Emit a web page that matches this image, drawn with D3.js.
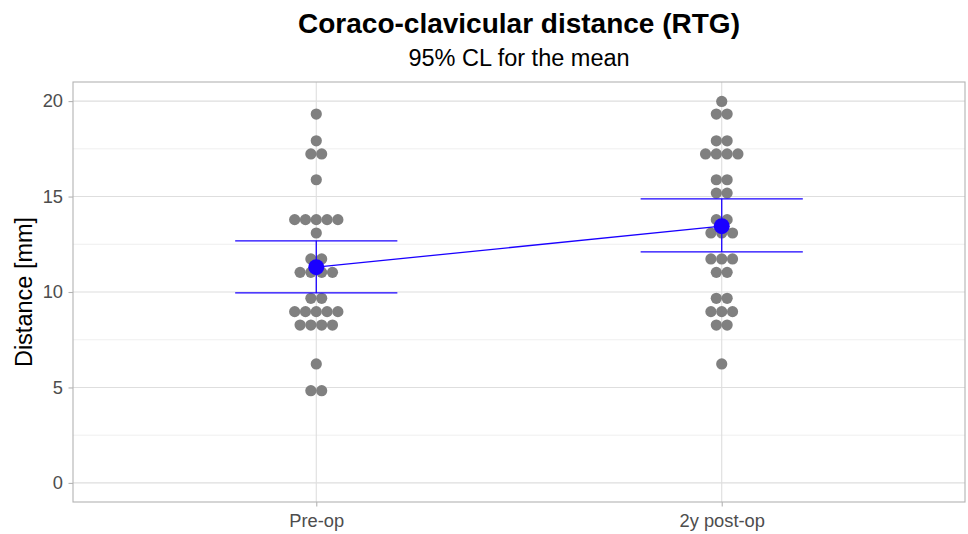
<!DOCTYPE html>
<html lang="en">
<head>
<meta charset="UTF-8">
<title>Coraco-clavicular distance (RTG)</title>
<script src="https://cdn.jsdelivr.net/npm/d3@7"></script>
<style>
  body { margin: 0; background: #fff; }
  svg { font-family: "Liberation Sans", Arial, sans-serif; }
</style>
</head>
<body>
<svg id="chart" width="968" height="534"></svg>
<script>
// groups on the x axis
const groups = ["Pre-op", "2y post-op"];

const preOp = [
  19.32, 17.92, 17.23, 17.23, 15.88,
  13.79, 13.79, 13.79, 13.79, 13.79, 13.09,
  11.73, 11.73, 11.03, 11.03, 11.03, 11.03,
  9.67, 9.67, 8.97, 8.97, 8.97, 8.97, 8.97,
  8.27, 8.27, 8.27, 8.27, 6.23, 4.83, 4.83
];
const postOp = [
  19.98, 19.32, 19.32, 17.92, 17.92, 17.23, 17.23, 17.23, 17.23,
  15.88, 15.88, 15.18, 15.18, 13.79, 13.79, 13.09, 13.09, 13.09,
  11.73, 11.73, 11.73, 11.03, 11.03, 9.67, 9.67,
  8.97, 8.97, 8.97, 8.27, 8.27, 6.23
];

// mean and 95% confidence limits per group
const means = [11.3, 13.45];
const ciLow = [9.95, 12.1];
const ciHigh = [12.68, 14.88];

const yTicks = [0, 5, 10, 15, 20];
const yMinor = [2.5, 7.5, 12.5, 17.5];

const margin = {top: 82, right: 3, bottom: 32, left: 73};
const width = 968, height = 534;
const svg = d3.select("#chart");

const x = d3.scalePoint()
    .domain(groups)
    .range([margin.left, width - margin.right])
    .padding(0.6);

const y = d3.scaleLinear()
    .domain([-1, 21])
    .range([height - margin.bottom, margin.top]);

const plot = svg.append("g");

// grid
plot.selectAll("line.minor")
  .data(yMinor).enter().append("line")
    .attr("x1", margin.left).attr("x2", width - margin.right)
    .attr("y1", d => y(d)).attr("y2", d => y(d))
    .attr("stroke", "#ebebeb").attr("stroke-width", 0.8);
plot.selectAll("line.major")
  .data(yTicks).enter().append("line")
    .attr("x1", margin.left).attr("x2", width - margin.right)
    .attr("y1", d => y(d)).attr("y2", d => y(d))
    .attr("stroke", "#dedede").attr("stroke-width", 1.1);
plot.selectAll("line.vgrid")
  .data(groups).enter().append("line")
    .attr("x1", d => x(d)).attr("x2", d => x(d))
    .attr("y1", margin.top).attr("y2", height - margin.bottom)
    .attr("stroke", "#dedede").attr("stroke-width", 1.1);

// dot plot: stack equal values centred on the group position
const spacing = 10.8, dotR = 5.6;
[preOp, postOp].forEach((vals, gi) => {
  const bins = d3.rollups(vals, v => v.length, d => d);
  const dots = [];
  bins.forEach(([val, n]) => {
    for (let i = 0; i < n; i++) dots.push({v: val, off: (i - (n - 1) / 2) * spacing});
  });
  plot.append("g").selectAll("circle")
    .data(dots).enter().append("circle")
      .attr("cx", d => x(groups[gi]) + d.off)
      .attr("cy", d => y(d.v))
      .attr("r", dotR)
      .attr("fill", "#808080");
});

// error bars
const blue = "#1a00ff";
const capW = 0.2 * x.step();
const eb = plot.append("g").attr("stroke", blue).attr("stroke-width", 1.3);
groups.forEach((g, i) => {
  eb.append("line").attr("x1", x(g)).attr("x2", x(g)).attr("y1", y(ciLow[i])).attr("y2", y(ciHigh[i]));
  eb.append("line").attr("x1", x(g) - capW).attr("x2", x(g) + capW).attr("y1", y(ciLow[i])).attr("y2", y(ciLow[i]));
  eb.append("line").attr("x1", x(g) - capW).attr("x2", x(g) + capW).attr("y1", y(ciHigh[i])).attr("y2", y(ciHigh[i]));
});

// line joining the means
plot.append("path")
  .datum(means)
  .attr("fill", "none").attr("stroke", blue).attr("stroke-width", 1.3)
  .attr("d", d3.line().x((d, i) => x(groups[i])).y(d => y(d)));

plot.selectAll("circle.mean")
  .data(means).enter().append("circle")
    .attr("cx", (d, i) => x(groups[i]))
    .attr("cy", d => y(d))
    .attr("r", 8)
    .attr("fill", blue);

// panel border
svg.append("rect")
  .attr("x", margin.left).attr("y", margin.top)
  .attr("width", width - margin.right - margin.left)
  .attr("height", height - margin.bottom - margin.top)
  .attr("fill", "none").attr("stroke", "#b3b3b3").attr("stroke-width", 1.1);

// axes
const yAxis = svg.append("g")
  .attr("transform", `translate(${margin.left},0)`)
  .call(d3.axisLeft(y).tickValues(yTicks).tickSize(4.5).tickPadding(5.5));
const xAxis = svg.append("g")
  .attr("transform", `translate(0,${height - margin.bottom})`)
  .call(d3.axisBottom(x).tickSize(4.5).tickPadding(8));
[yAxis, xAxis].forEach(a => {
  a.select(".domain").remove();
  a.selectAll(".tick line").attr("stroke", "#b3b3b3").attr("stroke-width", 1.1);
  a.selectAll(".tick text").attr("fill", "#4d4d4d").style("font-size", "18.3px")
    .style("font-family", "'Liberation Sans', Arial, sans-serif");
});

// titles
const cx = (margin.left + width - margin.right) / 2;
svg.append("text")
  .attr("x", cx).attr("y", 33)
  .attr("text-anchor", "middle")
  .style("font-size", "28px").style("font-weight", "bold")
  .text("Coraco-clavicular distance (RTG)");
svg.append("text")
  .attr("x", cx).attr("y", 66)
  .attr("text-anchor", "middle")
  .style("font-size", "23.5px")
  .text("95% CL for the mean");
svg.append("text")
  .attr("transform", `translate(32,${y(10)}) rotate(-90)`)
  .attr("text-anchor", "middle")
  .style("font-size", "23.5px")
  .text("Distance [mm]");
</script>
</body>
</html>
